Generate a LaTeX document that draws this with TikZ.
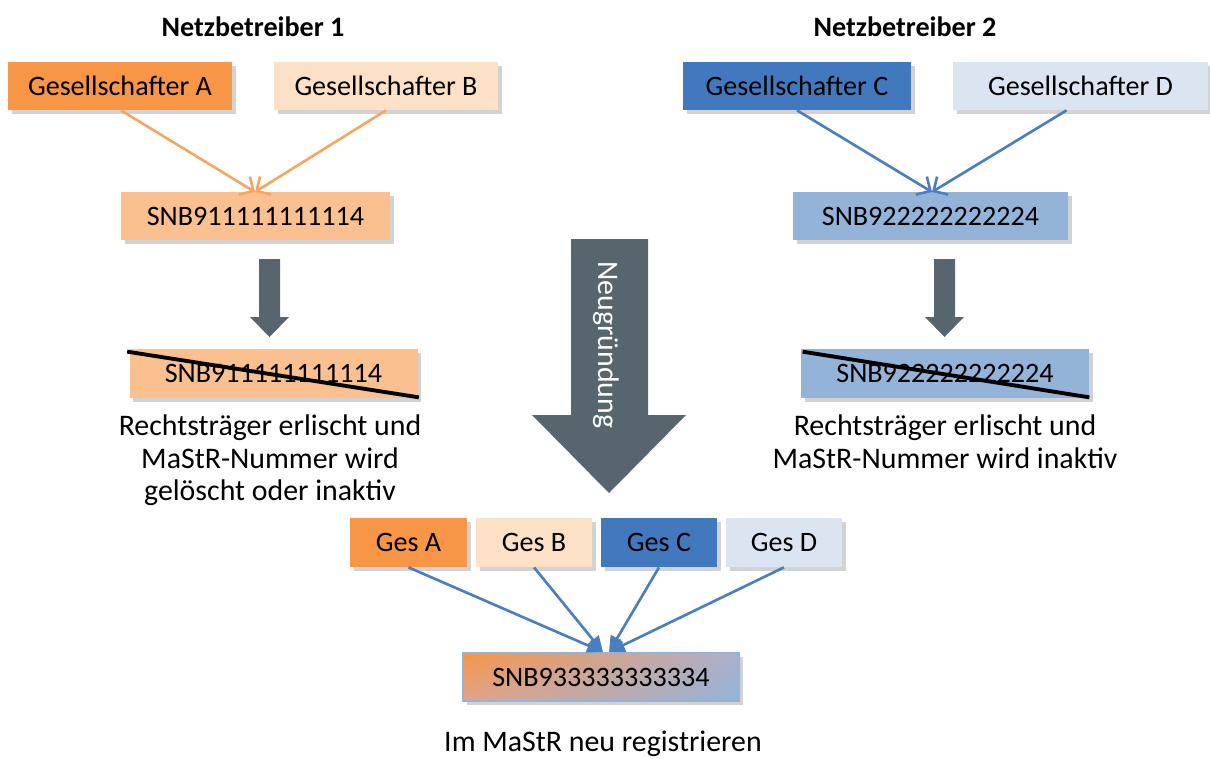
\documentclass[tikz,border=0pt]{standalone}
\usepackage{fontspec}
\setmainfont{Carlito}
\usepackage{tikz}
\usetikzlibrary{arrows.meta,positioning,calc,shadows,shadings}

\definecolor{orA}{HTML}{F79646}
\definecolor{orB}{HTML}{FDE1C6}
\definecolor{orN}{HTML}{FAC090}
\definecolor{blC}{HTML}{4279BE}
\definecolor{blD}{HTML}{DBE5F1}
\definecolor{blN}{HTML}{93B3D8}
\definecolor{mixLow}{HTML}{E0A48C}
\definecolor{mixHigh}{HTML}{AEB0CE}
\definecolor{orLine}{HTML}{F9A55E}
\definecolor{blLine}{HTML}{4A7EBF}
\definecolor{slate}{HTML}{56656E}

\tikzset{
    box/.style={rectangle, inner sep=0pt, minimum height=48*0.02cm,
        font=\fontsize{16}{18}\selectfont,
        drop shadow={shadow xshift=2pt, shadow yshift=-2pt, opacity=.25, fill=black!70}},
    caption/.style={align=center, font=\fontsize{17}{18.3}\selectfont},
    orarrow/.style={draw=orLine, line width=1.5pt, -{Straight Barb[length=6pt,width=12pt]}},
    blarrow/.style={draw=blLine, line width=1.5pt, -{Straight Barb[length=6pt,width=12pt]}},
    joinarrow/.style={draw=blLine, line width=1.5pt, -{Triangle[length=9pt,width=8pt]}},
    strike/.style={draw=black, line width=2.2pt}
}

\begin{document}
\begin{tikzpicture}[x=0.02cm, y=-0.02cm]
        \useasboundingbox (0,0) rectangle (1210,758);

        % Headings
        \node[font=\fontsize{16}{18}\selectfont\bfseries] (titleA) at (253,27) {Netzbetreiber 1};
        \node[font=\fontsize{16}{18}\selectfont\bfseries] (titleB) at (905,27) {Netzbetreiber 2};

        % Netzbetreiber 1
        \node[box, fill=orA, minimum width=224*0.02cm] (gesA) at (120,86) {Gesellschafter A};
        \node[box, fill=orB, minimum width=224*0.02cm] (gesB) at (386,86) {Gesellschafter B};
        \node[box, fill=orN, minimum width=269*0.02cm] (snbA) at (255.5,216) {SNB911111111114};
        \coordinate (snbA_in) at (255,192);
        \draw[orarrow] (gesA.south) ++(1,0) -- (snbA_in);
        \draw[orarrow] (gesB.south) -- (snbA_in);

        % Netzbetreiber 2
        \node[box, fill=blC, minimum width=228*0.02cm] (gesC) at (797,86) {Gesellschafter C};
        \node[box, fill=blD, minimum width=255*0.02cm] (gesD) at (1080.5,86) {Gesellschafter D};
        \node[box, fill=blN, minimum width=275*0.02cm] (snbB) at (930.5,216) {SNB922222222224};
        \coordinate (snbB_in) at (932,192);
        \draw[blarrow] (gesC.south) -- (snbB_in);
        \draw[blarrow] ($(gesD.south)+(-14,0)$) -- (snbB_in);

        % Small down arrows
        \foreach \cx in {269.5, 944.5} {
            \fill[slate] (\cx-10.5,259) -- (\cx+10.5,259) -- (\cx+10.5,317) -- (\cx+19.5,317)
                -- (\cx,337) -- (\cx-19.5,317) -- (\cx-10.5,317) -- cycle;
        }

        % Old numbers, struck out
        \node[box, fill=orN, minimum width=288*0.02cm, minimum height=49*0.02cm] (oldA) at (273.5,373.5) {SNB911111111114};
        \draw[strike] ($(oldA.north west)+(-2,3)$) -- ($(oldA.south east)+(1,-1)$);
        \node[box, fill=blN, minimum width=288*0.02cm, minimum height=49*0.02cm] (oldB) at (945,373.5) {SNB922222222224};
        \draw[strike] ($(oldB.north west)+(2,3)$) -- ($(oldB.south east)+(0,-1)$);

        \node[caption, anchor=north] (noteA) at (270,409) {Rechtsträger erlischt und\\MaStR-Nummer wird\\gelöscht oder inaktiv};
        \node[caption, anchor=north] (noteB) at (945,409) {Rechtsträger erlischt und\\MaStR-Nummer wird inaktiv};

        % Big arrow
        \fill[slate] (571,239) -- (648,239) -- (648,415) -- (686,415) -- (609,493)
            -- (532,415) -- (571,415) -- cycle;
        \node[rotate=-90, text=white, font=\fontsize{17}{18}\selectfont] (neu) at (606,345) {Neugründung};

        % Shareholders of the new company
        \node[box, fill=orA, minimum width=117*0.02cm, minimum height=49*0.02cm] (gA) at (408.5,542.5) {Ges A};
        \node[box, fill=orB, minimum width=116*0.02cm, minimum height=49*0.02cm] (gB) at (534,542.5) {Ges B};
        \node[box, fill=blC, minimum width=116*0.02cm, minimum height=49*0.02cm] (gC) at (659,542.5) {Ges C};
        \node[box, fill=blD, minimum width=116*0.02cm, minimum height=49*0.02cm] (gD) at (784,542.5) {Ges D};

        % New number
        \node[box, upper left=orA, lower left=mixLow, upper right=mixHigh, lower right=blN,
            draw=blN, line width=0.6pt, minimum width=276*0.02cm] (snbN) at (601,677) {SNB933333333334};
        \coordinate (snbN_l) at (603,652);
        \coordinate (snbN_r) at (609,652);

        \foreach \i in {gA, gB} {
            \draw[joinarrow] (\i.south) -- (snbN_l);
        }
        \foreach \i in {gC, gD} {
            \draw[joinarrow] (\i.south) -- (snbN_r);
        }

        \node[caption] (register) at (603,744) {Im MaStR neu registrieren};

    \end{tikzpicture}
\end{document}
